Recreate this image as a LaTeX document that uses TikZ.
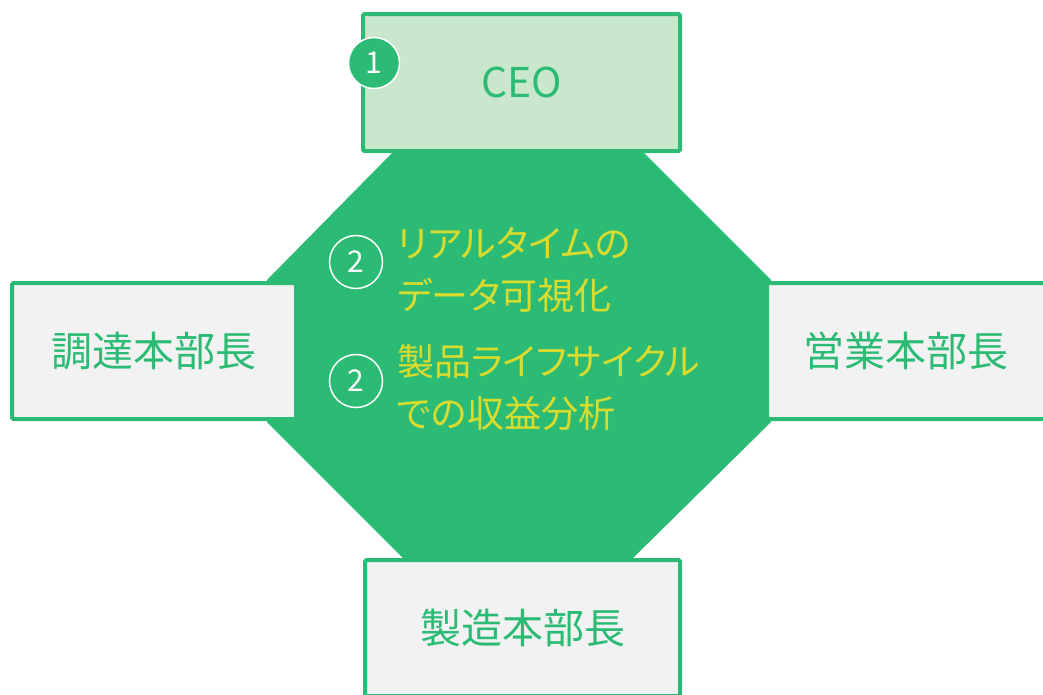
\documentclass[tikz,border=0pt]{standalone}
\usepackage{fontspec}
\setmainfont{Noto Sans CJK JP}
\newfontfamily\jpprop[RawFeature=+palt]{Noto Sans CJK JP}
\definecolor{ggreen}{RGB}{44,187,116}
\definecolor{lgreen}{RGB}{201,231,204}
\definecolor{boxgrey}{RGB}{242,242,242}
\definecolor{tyellow}{RGB}{215,220,46}
\begin{document}
\begin{tikzpicture}[x=1pt,y=-1pt,
  box/.style={draw=ggreen, line width=4pt, fill=boxgrey, text=ggreen,
    font=\fontsize{41}{48}\selectfont, rounded corners=1.5pt, inner sep=0pt},
  badge/.style={circle, draw=white, line width=1.5pt, text=white,
    minimum size=53pt, inner sep=0pt, font=\fontsize{30}{32}\selectfont},
  item/.style={text=tyellow, align=left, anchor=west, inner sep=0pt,
    font=\jpprop\fontsize{37}{52}\selectfont}]
\useasboundingbox (0,0) rectangle (1043,694);
\clip (0,0) rectangle (1043,694);
% central octagon
\coordinate (o1) at (393,152);
\coordinate (o2) at (643,152);
\coordinate (o3) at (771,280);
\coordinate (o4) at (771,422);
\coordinate (o5) at (633,558);
\coordinate (o6) at (403,558);
\coordinate (o7) at (267,422);
\coordinate (o8) at (267,280);
\fill[ggreen] (o1) -- (o2) -- (o3) -- (o4) -- (o5) -- (o6) -- (o7) -- (o8) -- cycle;
% boxes
\node[box, fill=lgreen, minimum width=317pt, minimum height=137pt] (ceo) at (521.5,82.5) {CEO};
\node[box, minimum width=284pt, minimum height=136pt] (proc) at (154,351) {調達本部長};
\node[box, minimum width=278pt, minimum height=136pt] (sales) at (906,351) {営業本部長};
\node[box, minimum width=315pt, minimum height=136pt] (mfg) at (522.5,628) {製造本部長};
% badges
\node[badge, fill=ggreen, minimum size=51pt] (b1) at (374,63) {1};
\node[badge] (b2a) at (356,262) {2};
\node[badge] (b2b) at (356,381) {2};
% items
\node[item] (t1) at (397,270) {リアルタイムの\\データ可視化};
\node[item] (t2) at (397,388) {製品ライフサイクル\\での収益分析};
\end{tikzpicture}
\end{document}
